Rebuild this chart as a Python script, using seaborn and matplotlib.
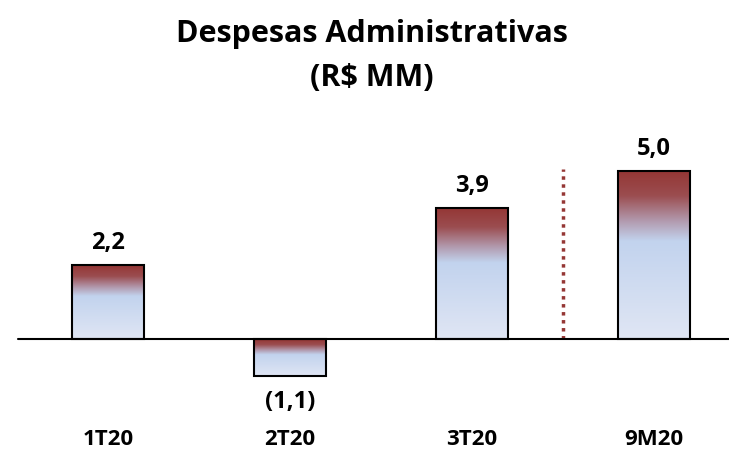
import numpy as np
import matplotlib
matplotlib.use("Agg")
import matplotlib.pyplot as plt
from matplotlib.colors import LinearSegmentedColormap
import seaborn as sns

categories = ["1T20", "2T20", "3T20", "9M20"]
values = [2.2, -1.1, 3.9, 5.0]
value_labels = ["2,2", "(1,1)", "3,9", "5,0"]
title = "Despesas Administrativas\n(R$ MM)"

sns.set_theme(style="white")
plt.rcParams['font.family'] = ['Open Sans', 'DejaVu Sans']
plt.rcParams['text.color'] = 'black'

fig = plt.figure(figsize=(7.29, 4.52), dpi=100)
ax = fig.add_axes([0, 0, 1, 1])

sns.barplot(x=categories, y=values, ax=ax, width=0.4, color="white",
            edgecolor="black", linewidth=1.5, zorder=3)

ax.set_xlim(-0.593, 3.412)
ax.set_ylim(-3.33, 10.12)

cmap = LinearSegmentedColormap.from_list(
    "grad", [(0.0, "#943634"), (0.15, "#9b4d50"), (0.30, "#b29aae"),
             (0.42, "#c2d3ee"), (1.0, "#e0e6f4")])
grad = np.linspace(0, 1, 256).reshape(-1, 1)
for p in ax.patches:
    x0, y0 = p.get_x(), p.get_y()
    w, h = p.get_width(), p.get_height()
    ylo, yhi = min(y0, y0 + h), max(y0, y0 + h)
    im = ax.imshow(grad, cmap=cmap, aspect="auto",
                   extent=[x0, x0 + w, ylo, yhi], origin="upper",
                   zorder=2, interpolation="bilinear")
    im.set_clip_path(p)
    p.set_facecolor("none")

ax.set_xlim(-0.593, 3.412)
ax.set_ylim(-3.33, 10.12)

ax.axhline(0, xmin=18 / 729, xmax=1, color="black", linewidth=1.5, zorder=4)
ax.plot([2.5, 2.5], [0, 5.05], color="#953735", linestyle=(0, (1, 1.3)),
        linewidth=2.5, zorder=1)

for i, (v, lab) in enumerate(zip(values, value_labels)):
    if v >= 0:
        ax.annotate(lab, (i, v), xytext=(0, 8), textcoords="offset points",
                    ha="center", va="bottom", fontsize=17, fontweight="bold")
    else:
        ax.annotate(lab, (i, v), xytext=(0, -9), textcoords="offset points",
                    ha="center", va="top", fontsize=17, fontweight="bold")

trans = ax.get_xaxis_transform()
for i, c in enumerate(categories):
    ax.text(i, 1 - 440 / 452, c, transform=trans, ha="center", va="center",
            fontsize=16, fontweight="bold")

ax.set_xticks([])
ax.set_yticks([])
for s in ax.spines.values():
    s.set_visible(False)

fig.text(372 / 729, 1 - 56 / 452, title, ha="center", va="center",
         fontsize=22, fontweight="bold", linespacing=1.6)

fig.savefig("out.png", dpi=100)
